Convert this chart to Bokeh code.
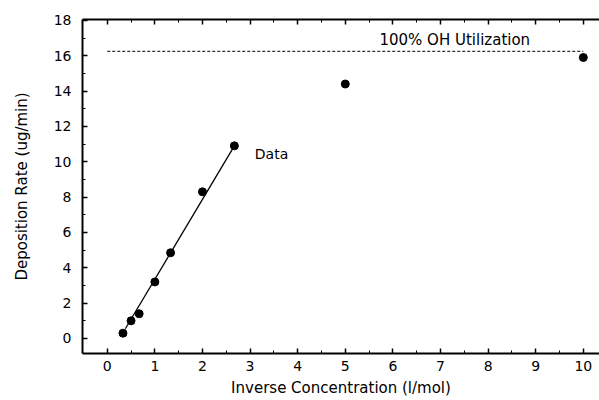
from bokeh.plotting import figure
from bokeh.models import LinearAxis, Range1d, FixedTicker, Label, CustomLabelingPolicy
from bokeh.embed import file_html
from bokeh.resources import INLINE

# Data
conc_inv = [0.33, 0.5, 0.67, 1.0, 1.33, 2.0, 2.67, 5.0, 10.0]
dep_rate = [0.3, 1.0, 1.4, 3.2, 4.85, 8.3, 10.9, 14.4, 15.9]
fit_x = [0.38, 2.67]
fit_y = [0.55, 10.9]
util_x = [0.0, 10.0]
util_y = [16.25, 16.25]
x_ticks = [0, 1, 2, 3, 4, 5, 6, 7, 8, 9, 10]
y_ticks = [0, 2, 4, 6, 8, 10, 12, 14, 16, 18]

FONT = "DejaVu Sans"

p = figure(width=599, height=400, output_backend="svg", toolbar_location=None,
           x_range=Range1d(-0.52, 10.34), y_range=Range1d(-0.85, 18.05),
           min_border_left=82, min_border_right=0, min_border_top=19, min_border_bottom=47,
           x_axis_label="Inverse Concentration (l/mol)",
           y_axis_label="Deposition Rate (ug/min)")
p.outline_line_color = None
p.grid.visible = False
p.background_fill_color = "white"
p.border_fill_color = "white"

for ax in [p.xaxis[0], p.yaxis[0]]:
    ax.axis_line_width = 2
    ax.axis_line_color = "black"
    ax.major_tick_in = 5
    ax.major_tick_out = 0
    ax.minor_tick_in = 3
    ax.minor_tick_out = 0
    ax.major_tick_line_width = 1.5
    ax.major_label_text_font = FONT
    ax.major_label_text_font_size = "14px"
    ax.major_label_text_color = "black"
    ax.axis_label_text_font = FONT
    ax.axis_label_text_font_size = "15px"
    ax.axis_label_text_font_style = "normal"
    ax.axis_label_text_color = "black"

p.xaxis[0].ticker = FixedTicker(ticks=x_ticks, minor_ticks=[v + 0.5 for v in x_ticks[:-1]])
p.yaxis[0].ticker = FixedTicker(ticks=y_ticks, minor_ticks=[v + 1 for v in y_ticks[:-1]])
p.xaxis[0].major_label_standoff = 7
p.xaxis[0].axis_label_standoff = 5
p.yaxis[0].major_label_standoff = 11
p.yaxis[0].axis_label_standoff = 20

top = LinearAxis(ticker=FixedTicker(ticks=x_ticks, minor_ticks=[v + 0.5 for v in x_ticks[:-1]]),
                 major_label_text_font_size="1px", axis_line_width=2,
                 major_tick_in=5, major_tick_out=0, minor_tick_in=3, minor_tick_out=0,
                 major_tick_line_width=1.5, major_label_standoff=0,
                 major_label_policy=CustomLabelingPolicy(code="return new Set()"))
p.add_layout(top, "above")

p.line(util_x, util_y, line_color="black", line_width=1, line_dash="3 2")
p.line(fit_x, fit_y, line_color="black", line_width=1.3)
p.scatter(conc_inv, dep_rate, size=8, color="black")

p.add_layout(Label(x=3.1, y=10.45, text="Data", text_font=FONT, text_font_size="14px",
                   text_baseline="middle", text_align="left", text_color="black"))
p.add_layout(Label(x=7.3, y=16.9, text="100% OH Utilization", text_font=FONT,
                   text_font_size="15px", text_baseline="middle", text_align="center",
                   text_color="black"))

open("out.html", "w").write(file_html(p, INLINE))
